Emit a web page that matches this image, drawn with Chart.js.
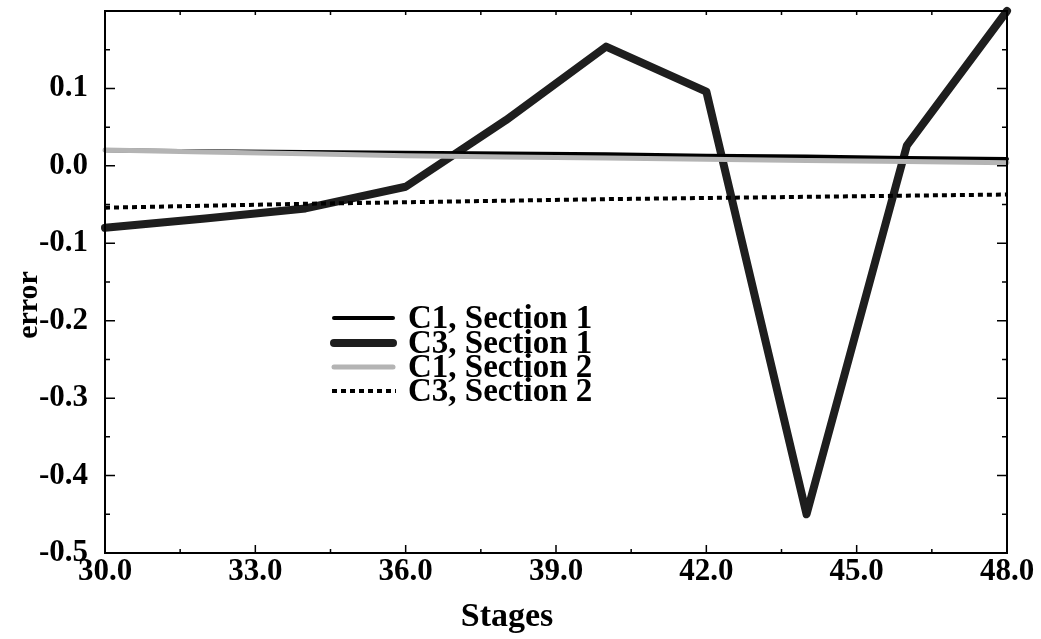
<!DOCTYPE html>
<html>
<head>
<meta charset="utf-8">
<script src="https://cdn.jsdelivr.net/npm/chart.js@4/dist/chart.umd.min.js"></script>
<style>
  html, body { margin: 0; padding: 0; background: #fff; }
  #wrap { width: 1041px; height: 639px; position: relative; }
</style>
</head>
<body>
<div id="wrap"><canvas id="c" width="1041" height="639"></canvas></div>
<script>
// ---- data ----
const stages = [30, 32, 34, 36, 38, 40, 42, 44, 46, 48];
const c1Section1 = [0.020, 0.019, 0.018, 0.017, 0.016, 0.015, 0.013, 0.012, 0.010, 0.009];
const c3Section1 = [-0.080, -0.068, -0.055, -0.027, 0.059, 0.154, 0.096, -0.450, 0.026, 0.200];
const c1Section2 = [0.0205, 0.018, 0.0155, 0.013, 0.0115, 0.010, 0.0085, 0.007, 0.0055, 0.004];
const c3Section2 = [-0.054, -0.0515, -0.049, -0.047, -0.045, -0.043, -0.0415, -0.040, -0.0385, -0.037];
const seriesNames = ['C1, Section 1', 'C3, Section 1', 'C1, Section 2', 'C3, Section 2'];
const xTickValues = [30, 33, 36, 39, 42, 45, 48];
const yTickValues = [-0.5, -0.4, -0.3, -0.2, -0.1, 0.0, 0.1];
const xTitle = 'Stages';
const yTitle = 'error';

const FONT = '"Liberation Serif", "Times New Roman", serif';

function pts(ys) { return stages.map((x, i) => ({ x: x, y: ys[i] })); }

const styles = [
  { color: '#000000', width: 4, dash: [], order: 3 },
  { color: '#1e1e1e', width: 8, dash: [], order: 4 },
  { color: '#b4b4b4', width: 5, dash: [], order: 2 },
  { color: '#000000', width: 4, dash: [5, 4], order: 1 }
];
const seriesData = [c1Section1, c3Section1, c1Section2, c3Section2];

const datasets = seriesData.map((d, i) => ({
  label: seriesNames[i],
  data: pts(d),
  borderColor: styles[i].color,
  backgroundColor: styles[i].color,
  borderWidth: styles[i].width,
  borderDash: styles[i].dash,
  borderCapStyle: i === 3 ? 'butt' : 'round',
  borderJoinStyle: 'round',
  pointRadius: 0,
  tension: 0,
  fill: false,
  order: styles[i].order,
  clip: false
}));

// frame + inward tick marks
const framePlugin = {
  id: 'frame',
  afterDatasetsDraw(chart) {
    const ctx = chart.ctx, a = chart.chartArea;
    const xs = chart.scales.x, ys = chart.scales.y;
    ctx.save();
    ctx.strokeStyle = '#000';
    ctx.lineWidth = 2;
    ctx.beginPath();
    ctx.rect(a.left, a.top, a.right - a.left, a.bottom - a.top);
    ctx.stroke();
    ctx.lineWidth = 1.5;
    ctx.beginPath();
    for (let i = 0; i < xTickValues.length; i++) {
      const v = xTickValues[i];
      const px = xs.getPixelForValue(v);
      ctx.moveTo(px, a.bottom); ctx.lineTo(px, a.bottom - 8);
      ctx.moveTo(px, a.top); ctx.lineTo(px, a.top + 4);
      if (i < xTickValues.length - 1) {
        const m = xs.getPixelForValue((v + xTickValues[i + 1]) / 2);
        ctx.moveTo(m, a.bottom); ctx.lineTo(m, a.bottom - 4);
        ctx.moveTo(m, a.top); ctx.lineTo(m, a.top + 4);
      }
    }
    const yAll = yTickValues.concat([ys.max]);
    for (let i = 0; i < yAll.length; i++) {
      const v = yAll[i];
      const py = ys.getPixelForValue(v);
      ctx.moveTo(a.left, py); ctx.lineTo(a.left + 10, py);
      ctx.moveTo(a.right, py); ctx.lineTo(a.right - 10, py);
      if (i < yAll.length - 1) {
        const m = ys.getPixelForValue((v + yAll[i + 1]) / 2);
        ctx.moveTo(a.left, m); ctx.lineTo(a.left + 5, m);
        ctx.moveTo(a.right, m); ctx.lineTo(a.right - 5, m);
      }
    }
    ctx.stroke();
    ctx.restore();
  }
};

// legend and axis titles
const annotPlugin = {
  id: 'annot',
  afterDraw(chart) {
    const ctx = chart.ctx;
    ctx.save();
    const rowY = [318, 343, 367, 391];
    for (let i = 0; i < seriesNames.length; i++) {
      const s = styles[i];
      ctx.beginPath();
      ctx.strokeStyle = s.color;
      ctx.lineWidth = s.width;
      ctx.setLineDash(s.dash);
      ctx.lineCap = i === 3 ? 'butt' : 'round';
      ctx.moveTo(i === 3 ? 332 : 334, rowY[i]);
      ctx.lineTo(i === 3 ? 396 : 393, rowY[i]);
      ctx.stroke();
      ctx.setLineDash([]);
      ctx.fillStyle = '#000';
      ctx.font = 'bold 33px ' + FONT;
      ctx.textAlign = 'left';
      ctx.textBaseline = 'middle';
      ctx.fillText(seriesNames[i], 408, rowY[i] + 1);
    }
    ctx.font = 'bold 34px ' + FONT;
    ctx.fillStyle = '#000';
    ctx.textAlign = 'center';
    ctx.textBaseline = 'alphabetic';
    ctx.fillText(xTitle, 507, 626);
    ctx.font = 'bold 30px ' + FONT;
    ctx.translate(37, 305);
    ctx.rotate(-Math.PI / 2);
    ctx.fillText(yTitle, 0, 0);
    ctx.restore();
  }
};

new Chart(document.getElementById('c'), {
  type: 'line',
  data: { datasets: datasets },
  options: {
    responsive: false,
    animation: false,
    layout: { padding: { left: 0, right: 34, top: 11, bottom: 0 } },
    plugins: { legend: { display: false }, tooltip: { enabled: false } },
    scales: {
      x: {
        type: 'linear', min: 30, max: 48,
        afterBuildTicks: (s) => { s.ticks = xTickValues.map(v => ({ value: v })); },
        afterFit: (s) => { s.height = 86; s.paddingLeft = 0; s.paddingRight = 0; },
        grid: { display: false, drawTicks: false },
        border: { display: false },
        ticks: {
          autoSkip: false, maxRotation: 0, padding: 0, color: '#000',
          font: { family: FONT, size: 31, weight: 'bold' },
          callback: (v) => Number(v).toFixed(1)
        }
      },
      y: {
        type: 'linear', min: -0.5, max: 0.2,
        afterBuildTicks: (s) => { s.ticks = yTickValues.map(v => ({ value: v })); },
        afterFit: (s) => { s.width = 105; s.paddingTop = 0; s.paddingBottom = 0; },
        grid: { display: false, drawTicks: false },
        border: { display: false },
        ticks: {
          autoSkip: false, padding: 17, color: '#000',
          font: { family: FONT, size: 31, weight: 'bold' },
          callback: (v) => Number(v).toFixed(1)
        }
      }
    }
  },
  plugins: [framePlugin, annotPlugin]
});
</script>
</body>
</html>
